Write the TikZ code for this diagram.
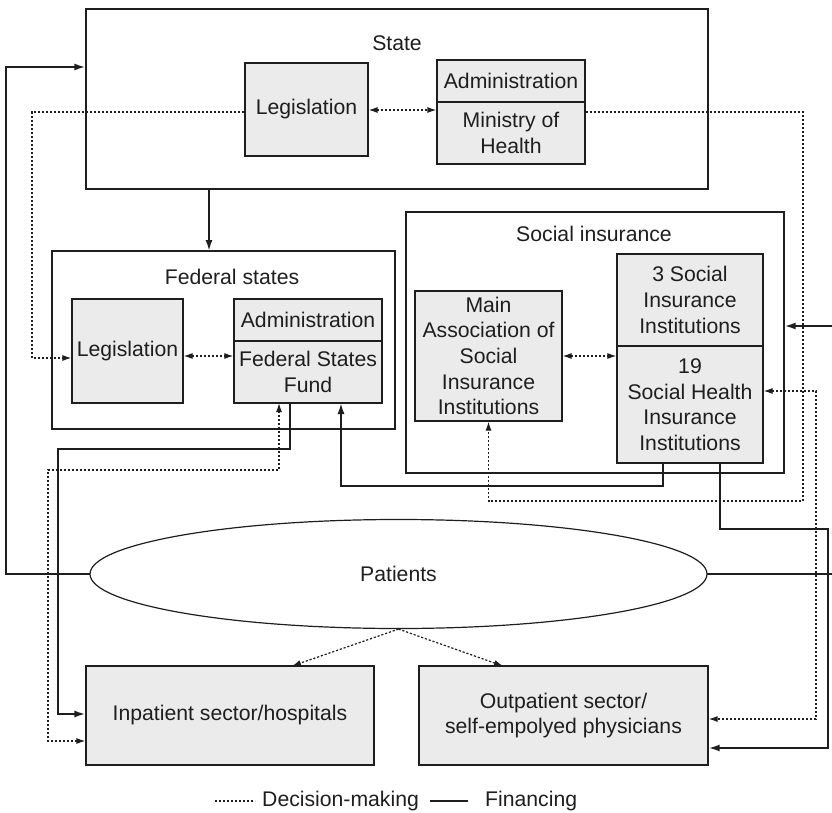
\documentclass[tikz,border=0pt]{standalone}
\usepackage{fontspec}
\setmainfont{Liberation Sans}
\usetikzlibrary{arrows.meta,shapes.geometric}
\definecolor{boxgray}{HTML}{EBEBEB}
\definecolor{ink}{HTML}{1E1E1E}
\begin{document}
\begin{tikzpicture}[x=1pt,y=-1pt,
  every node/.style={font=\fontsize{21.2}{25.6}\selectfont, text=ink},
  frame/.style={draw=ink, line width=1.2pt, rectangle, inner sep=0pt},
  gbox/.style={frame, fill=boxgray, align=center},
  fin/.style={draw=ink, line width=1.9pt, line cap=rect},
  dec/.style={draw=ink, line width=1.2pt, dash pattern=on 2.2pt off 1.8pt},
  fa/.style={-{Latex[length=11pt,width=7pt]}},
  da/.style={-{Latex[length=9pt,width=6pt]}},
  dda/.style={{Latex[length=9pt,width=6pt]}-{Latex[length=9pt,width=6pt]}},
]
\useasboundingbox (0,0) rectangle (832,813);

% containers
\node[frame, minimum width=622pt, minimum height=180pt] (state) at (397,99) {};
\node (statelbl) at (397,43) {State};
\node[frame, minimum width=343pt, minimum height=178pt] (fed) at (223.5,340) {};
\node (fedlbl) at (232,277) {Federal states};
\node[frame, minimum width=378pt, minimum height=261pt] (soc) at (595,342.5) {};
\node (soclbl) at (594,234) {Social insurance};

% state inner
\node[gbox, minimum width=123pt, minimum height=93pt] (legS) at (306.5,109.5) {Legislation};
\node[gbox, minimum width=148pt, minimum height=42pt] (admS) at (511,81) {Administration};
\node[gbox, minimum width=148pt, minimum height=62pt] (minS) at (511,133) {Ministry of\\Health};

% federal inner
\node[gbox, minimum width=111pt, minimum height=104pt] (legF) at (127.5,351) {Legislation};
\node[gbox, minimum width=148pt, minimum height=42pt] (admF) at (308,320) {Administration};
\node[gbox, minimum width=148pt, minimum height=62pt] (fund) at (308,372) {Federal States\\Fund};

% social insurance inner
\node[gbox, minimum width=147pt, minimum height=130pt] (main) at (488.5,356) {Main\\Association of\\Social\\Insurance\\Institutions};
\node[gbox, minimum width=146pt, minimum height=92pt] (sii) at (690,300) {3 Social\\Insurance\\Institutions};
\node[gbox, minimum width=146pt, minimum height=117pt] (shi) at (690,404.5) {19\\Social Health\\Insurance\\Institutions};

% patients
\node[draw=ink, line width=1.2pt, ellipse, minimum width=617pt, minimum height=109pt, inner sep=0pt] (pat) at (398.5,574) {Patients};

% sectors
\node[gbox, minimum width=288pt, minimum height=99pt] (inp) at (230,715.5) {Inpatient sector/hospitals};
\node[gbox, minimum width=289pt, minimum height=99pt] (outp) at (563.5,715.5) {Outpatient sector/\\self-empolyed physicians};

% free ends at the picture's right edge
\coordinate (edgeA) at (832,574);
\coordinate (edgeB) at (832,326);

% financing connectors
\draw[fin, fa] (209,189) -- (209,251);
\draw[fin, fa] (pat.west) -| (6,67) -- (state.west |- 0,67);
\draw[fin] (pat.east) -- (edgeA);
\draw[fin, fa] (edgeB) -- (soc.east |- edgeB);
\draw[fin, fa] (290,403) -- (290,449) -| (58,714) -- (inp.west |- 0,714);
\draw[fin, fa] (663,463) -- (663,486) -| (341,403);
\draw[fin, fa] (720,463) -- (720,529) -| (828,748) -- (outp.east |- 0,748);

% decision-making connectors
\draw[dec, dda] (legS.east |- 0,110) -- (minS.west |- 0,110);
\draw[dec, da] (legS.west |- 0,112) -| (32,358) -- (legF.west |- 0,358);
\draw[dec, da] (minS.east |- 0,112) -| (803,501) -| (main.south);
\draw[dec, dda] (legF.east |- 0,356) -- (fund.west |- 0,356);
\draw[dec, dda] (main.east |- 0,356) -- (shi.west |- 0,356);
\draw[dec, dda] (inp.west |- 0,741) -| (48,470) -| (279,403);
\draw[dec, dda] (shi.east |- 0,391) -| (816,719) -- (outp.east |- 0,719);
\draw[dec, da] (pat.south) -- (292,666);
\draw[dec, da] (pat.south) -- (503,666);

% legend
\coordinate (l1a) at (215,801);
\coordinate (l1b) at (255,801);
\coordinate (l2a) at (430,801);
\coordinate (l2b) at (468,801);
\draw[dec] (l1a) -- (l1b);
\node[anchor=west, inner sep=0pt] (lgd) at (262,801) {Decision-making};
\draw[fin, line cap=butt] (l2a) -- (l2b);
\node[anchor=west, inner sep=0pt] (lgf) at (485,801) {Financing};
\end{tikzpicture}
\end{document}
